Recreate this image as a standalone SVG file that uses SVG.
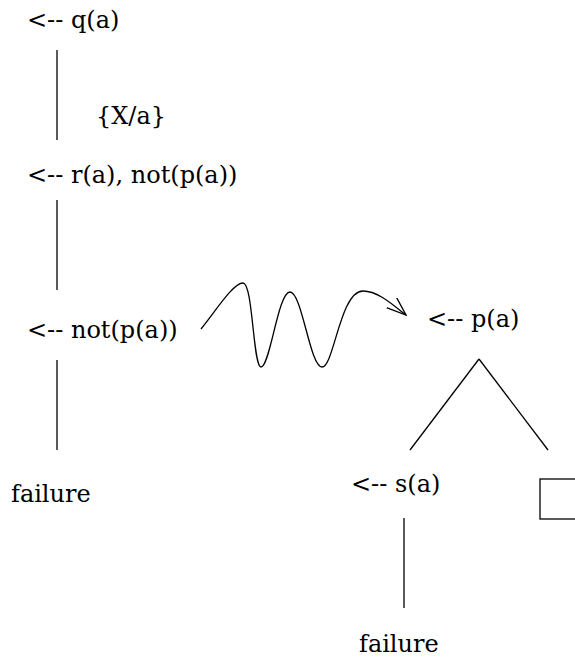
<svg xmlns="http://www.w3.org/2000/svg" width="575" height="658" viewBox="0 0 575 658">
<defs>
<style>
.t{font-family:'DejaVu Serif','Liberation Serif',serif;font-size:24px;fill:#000}
.ln{stroke:#000;stroke-width:1.3;fill:none}
</style>
<marker id="ah" markerWidth="24" markerHeight="20" refX="20" refY="8" orient="auto" markerUnits="userSpaceOnUse">
<path d="M2,0 L20,8 L0,14" fill="none" stroke="#000" stroke-width="1.3"/>
</marker>
</defs>
<rect width="575" height="658" fill="#fff"/>
<g id="connectors">
<line class="ln" x1="57" y1="50" x2="57" y2="140"/>
<line class="ln" x1="57" y1="200" x2="57" y2="290"/>
<line class="ln" x1="57" y1="360" x2="57" y2="450"/>
<line class="ln" x1="479" y1="359" x2="410" y2="450"/>
<line class="ln" x1="479" y1="359" x2="548" y2="450"/>
<line class="ln" x1="404" y1="518" x2="404" y2="608"/>
<path class="ln" marker-end="url(#ah)" d="M201,329 C215,312 233,283 243,283 C253,283 253,367 261,367 C270,367 278,292 290,292 C302,292 310,367 322,367 C334,367 340,291 363,291 C378,291 393,305 406,315"/>
</g>
<g id="n-q"><text class="t" x="27" y="28">&lt;-- q(a)</text></g>
<g id="subst"><text class="t" x="96" y="124">{X/a}</text></g>
<g id="n-r"><text class="t" x="27" y="183">&lt;-- r(a), not(p(a))</text></g>
<g id="n-not"><text class="t" x="27" y="338">&lt;-- not(p(a))</text></g>
<g id="n-fail1"><text class="t" x="11" y="502">failure</text></g>
<g id="n-p"><text class="t" x="427" y="327">&lt;-- p(a)</text></g>
<g id="n-s"><text class="t" x="351" y="492">&lt;-- s(a)</text></g>
<g id="n-box"><rect class="ln" x="540" y="479" width="45" height="40"/></g>
<g id="n-fail2"><text class="t" x="359" y="652">failure</text></g>
</svg>
